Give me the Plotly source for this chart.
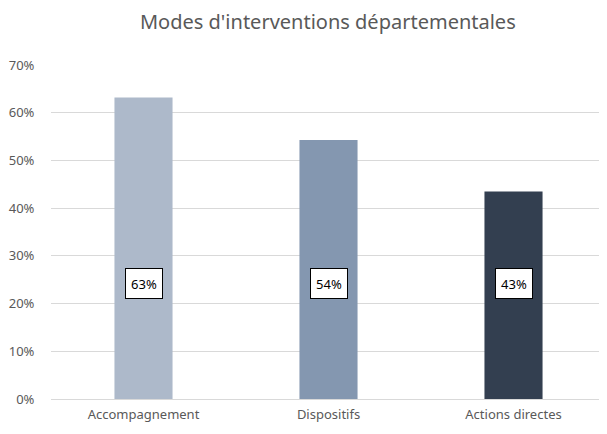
import plotly.graph_objects as go

categories = ["Accompagnement", "Dispositifs", "Actions directes"]
values = [0.632, 0.543, 0.435]
labels = ["63%", "54%", "43%"]
colors = ["#ADB9CA", "#8497B0", "#333F50"]
label_y = 0.242
y_ticks = [0, 0.1, 0.2, 0.3, 0.4, 0.5, 0.6, 0.7]

FONT = "Noto Sans"

fig = go.Figure()
fig.add_trace(go.Bar(x=categories, y=values, marker=dict(color=colors, line=dict(width=0)),
                     hoverinfo="skip", showlegend=False))

for c, t in zip(categories, labels):
    fig.add_annotation(x=c, y=label_y, xref="x", yref="y", text=t, showarrow=False,
                       font=dict(family=FONT, size=13, color="#000000"),
                       bgcolor="#FFFFFF", bordercolor="#000000", borderwidth=1,
                       borderpad=2, width=32, height=25)

# page body has an 8px margin, so the figure is sized to fit the window
fig.update_layout(
    width=599, height=426,
    margin=dict(l=43, r=1, t=57, b=35),
    paper_bgcolor="#FFFFFF", plot_bgcolor="#FFFFFF",
    bargap=0.686,
    title=dict(text="Modes d'interventions départementales", x=0.534, xanchor="center",
               y=0.966, yanchor="middle", font=dict(family=FONT, size=20, color="#595959")),
    font=dict(family=FONT, size=13, color="#595959"),
)
fig.update_yaxes(range=[0, 0.7], tickvals=y_ticks, tickformat=".0%", showgrid=True,
                 gridcolor="#D9D9D9", gridwidth=1, zeroline=False, showline=False,
                 ticks="outside", ticklen=13, tickcolor="rgba(0,0,0,0)",
                 tickfont=dict(family=FONT, size=13, color="#595959"))
fig.update_xaxes(showline=True, linecolor="#D9D9D9", linewidth=1,
                 ticks="outside", ticklen=3, tickcolor="rgba(0,0,0,0)",
                 tickfont=dict(family=FONT, size=13, color="#595959"))

fig.write_html("out.html")
